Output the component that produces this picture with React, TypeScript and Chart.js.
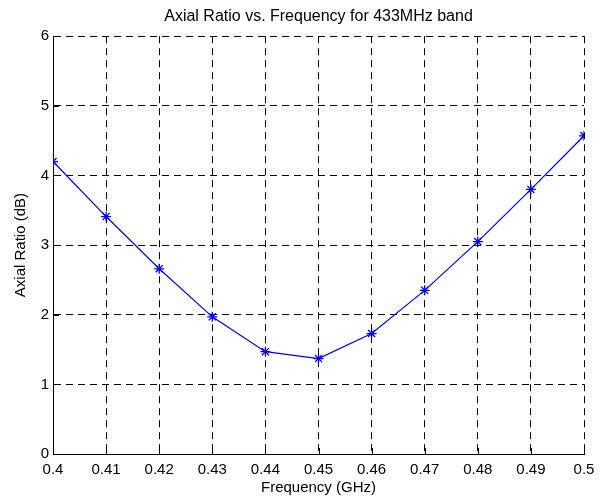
import React, { useEffect, useRef } from "react";
import { Chart, registerables } from "chart.js";

Chart.register(...registerables);

const frequencies = [0.4, 0.41, 0.42, 0.43, 0.44, 0.45, 0.46, 0.47, 0.48, 0.49, 0.5];
const axialRatio = [4.2, 3.41, 2.66, 1.97, 1.47, 1.37, 1.73, 2.35, 3.05, 3.8, 4.57];
const xTickValues = [0.4, 0.41, 0.42, 0.43, 0.44, 0.45, 0.46, 0.47, 0.48, 0.49, 0.5];
const xTickLabels = ["0.4", "0.41", "0.42", "0.43", "0.44", "0.45", "0.46", "0.47", "0.48", "0.49", "0.5"];
const yTickValues = [0, 1, 2, 3, 4, 5, 6];
const yTickLabels = ["0", "1", "2", "3", "4", "5", "6"];

const FONT = "'Liberation Sans', Arial, Helvetica, sans-serif";

const inwardTicks = {
  id: "inwardTicks",
  beforeDatasetsDraw(chart: any) {
    const { ctx, chartArea, scales } = chart;
    const len = 6;
    ctx.save();
    ctx.strokeStyle = "#000";
    ctx.lineWidth = 1;
    ctx.setLineDash([]);
    ctx.beginPath();
    xTickValues.forEach((v) => {
      const x = Math.round(scales.x.getPixelForValue(v)) + 0.5;
      ctx.moveTo(x, chartArea.bottom);
      ctx.lineTo(x, chartArea.bottom - len);
    });
    yTickValues.forEach((v) => {
      const y = Math.round(scales.y.getPixelForValue(v)) + 0.5;
      ctx.moveTo(chartArea.left, y);
      ctx.lineTo(chartArea.left + len, y);
    });
    ctx.stroke();
    ctx.restore();
  },
};

export default function App() {
  const ref = useRef<HTMLCanvasElement | null>(null);

  useEffect(() => {
    if (!ref.current) return;
    const chart = new Chart(ref.current, {
      type: "line",
      data: {
        datasets: [
          {
            data: frequencies.map((f, i) => ({ x: f, y: axialRatio[i] })),
            borderColor: "#0000ff",
            backgroundColor: "#0000ff",
            borderWidth: 1.2,
            pointStyle: "star",
            pointRadius: 5,
            pointBorderWidth: 1.3,
            pointBorderColor: "#0000ff",
            tension: 0,
            fill: false,
          },
        ],
      },
      options: {
        responsive: false,
        animation: false,
        devicePixelRatio: 1,
        layout: { padding: { left: 0, right: 26, top: 0, bottom: 0 } },
        plugins: {
          legend: { display: false },
          tooltip: { enabled: false },
          title: {
            display: true,
            text: "Axial Ratio vs. Frequency for 433MHz band",
            color: "#000",
            fullSize: false,
            font: { family: FONT, size: 16, weight: "normal" },
            padding: { top: 7, bottom: 10 },
          },
        },
        scales: {
          x: {
            type: "linear",
            min: 0.4,
            max: 0.5,
            afterBuildTicks: (scale: any) => {
              scale.ticks = xTickValues.map((v) => ({ value: v }));
            },
            afterFit: (scale: any) => {
              scale.height = 46;
            },
            ticks: {
              color: "#000",
              font: { family: FONT, size: 15 },
              padding: 7,
              maxRotation: 0,
              autoSkip: false,
              callback: (_v: any, i: number) => xTickLabels[i],
            },
            grid: { color: "#000", lineWidth: 1, drawTicks: false },
            border: { display: true, color: "#000", width: 1, dash: [7, 5] },
            title: {
              display: true,
              text: "Frequency (GHz)",
              color: "#000",
              font: { family: FONT, size: 15 },
              padding: { top: 0, bottom: 3 },
            },
          },
          y: {
            type: "linear",
            min: 0,
            max: 6,
            afterBuildTicks: (scale: any) => {
              scale.ticks = yTickValues.map((v) => ({ value: v }));
            },
            afterFit: (scale: any) => {
              scale.width = 53;
            },
            ticks: {
              color: "#000",
              font: { family: FONT, size: 15 },
              padding: 4,
              autoSkip: false,
              callback: (_v: any, i: number) => yTickLabels[i],
            },
            grid: { color: "#000", lineWidth: 1, drawTicks: false },
            border: { display: true, color: "#000", width: 1, dash: [7, 5] },
            title: {
              display: true,
              text: "Axial Ratio (dB)",
              color: "#000",
              font: { family: FONT, size: 15 },
              padding: { top: 12, bottom: 0 },
            },
          },
        },
      },
      plugins: [inwardTicks],
    } as any);
    return () => chart.destroy();
  }, []);

  return (
    <div style={{ position: "absolute", left: 0, top: 0, width: 610, height: 500, background: "#fff" }}>
      <canvas ref={ref} width={610} height={500} />
    </div>
  );
}
